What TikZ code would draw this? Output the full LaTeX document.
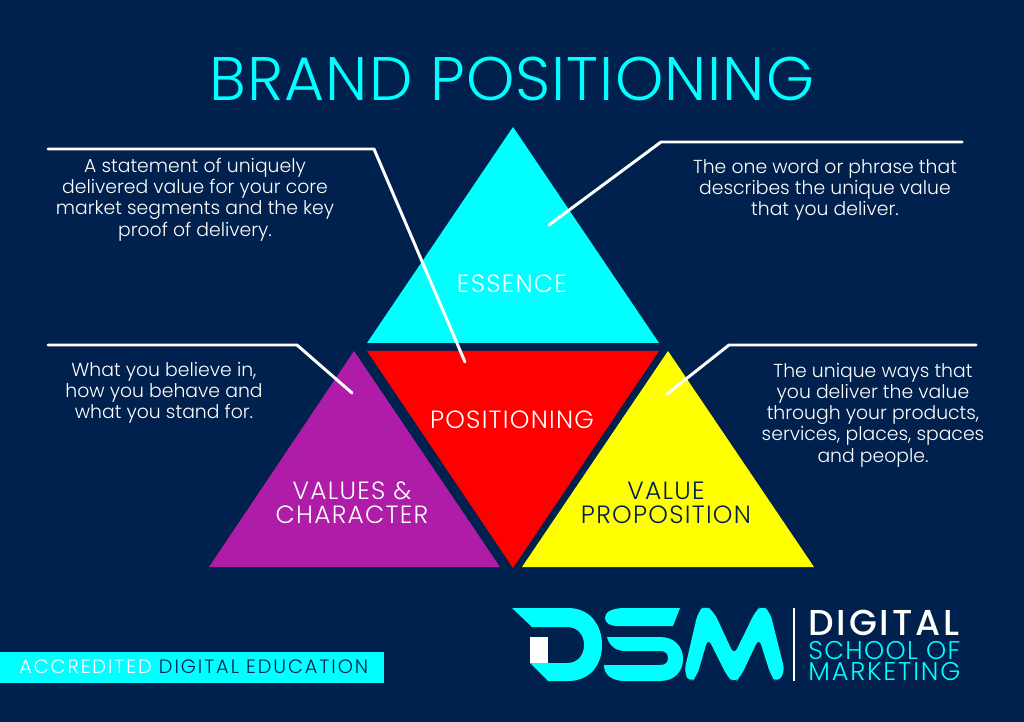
\documentclass[tikz,border=0pt]{standalone}
\usepackage{fontspec}
\setmainfont{Poppins}
\newfontfamily\thinfont{Poppins Light}
\newfontfamily\midfont{Poppins Medium}
\definecolor{navy}{HTML}{00214D}
\definecolor{aqua}{HTML}{00FFFF}
\definecolor{plum}{HTML}{AE1CA8}
\definecolor{lemon}{HTML}{FFFF00}
\definecolor{scarlet}{HTML}{FF0000}
\begin{document}
\begin{tikzpicture}[x=0.02cm,y=-0.02cm,
    blurb/.style={align=center,text=white,font=\thinfont\fontsize{10.7}{12.1}\selectfont,inner sep=0pt},
    tag/.style={align=center,font=\thinfont\fontsize{14.2}{13.6}\selectfont\addfontfeatures{LetterSpace=5},inner sep=0pt},
    brandline/.style={inner sep=0pt,anchor=west,text=aqua},
    leader/.style={draw=white,line width=1.7pt,line cap=round,line join=round}]
    \useasboundingbox (0,0) rectangle (1024,722);
    \fill[navy] (0,0) rectangle (1024,722);
    \node[inner sep=0pt,text=aqua,font=\thinfont\fontsize{35}{35}\selectfont\addfontfeatures{LetterSpace=1.7}] (title) at (512,79) {BRAND POSITIONING};
    % the four triangles
    \fill[aqua] (513,127) -- (659,343) -- (367,343) -- cycle;
    \fill[scarlet] (367,351) -- (659,351) -- (513,568) -- cycle;
    \fill[plum] (354,351) -- (500,567) -- (209,567) -- cycle;
    \fill[lemon] (668,351) -- (814,567) -- (522,567) -- cycle;
    \node[tag,text=white] (essence) at (512,284) {ESSENCE};
    \node[tag,text=white] (positioning) at (512,420) {POSITIONING};
    \node[tag,text=white] (values) at (352,503) {VALUES \&\\CHARACTER};
    \node[tag,text=navy] (value) at (666,503) {VALUE\\PROPOSITION};
    % leader lines
    \coordinate (a1) at (48,149);
    \coordinate (a2) at (374,149);
    \coordinate (a3) at (465,362);
    \coordinate (b1) at (962,142);
    \coordinate (b2) at (661,142);
    \coordinate (b3) at (549,225);
    \coordinate (c1) at (48,345);
    \coordinate (c2) at (297,345);
    \coordinate (c3) at (352,393);
    \coordinate (d1) at (976,345);
    \coordinate (d2) at (729,345);
    \coordinate (d3) at (667,394);
    \foreach \l in {a,b,c,d}{
      \draw[leader] (\l1) -- (\l2) -- (\l3);
    }
    \node[blurb] (statement) at (195,199.5) {A statement of uniquely\\delivered value for your core\\market segments and the key\\proof of delivery.};
    \node[blurb] (word) at (825,190) {The one word or phrase that\\describes the unique value\\that you deliver.};
    \node[blurb] (believe) at (164,393) {What you believe in,\\how you behave and\\what you stand for.};
    \node[blurb] (ways) at (873,415) {The unique ways that\\you deliver the value\\through your products,\\services, places, spaces\\and people.};
    % accreditation strip
    \fill[aqua] (0,652) rectangle (384,683);
    \node[inner sep=0pt,anchor=west,font=\thinfont\fontsize{11}{12}\selectfont\addfontfeatures{LetterSpace=10}] (strip) at (19,667) {\textcolor{white}{ACCREDITED} \textcolor{navy}{DIGITAL EDUCATION}};
    % logo: D
    \fill[aqua] (512,608) -- (568,608) .. controls (590,608) and (602,625) .. (602,645) .. controls (602,665) and (590,681) .. (568,681) -- (548,681) -- (530,663) -- (567,663) .. controls (578,663) and (584,655) .. (584,645) .. controls (584,635) and (578,627) .. (567,627) -- (532,627) -- cycle;
    \fill[white] (530,637) rectangle (548,663);
    % logo: S
    \fill[aqua] (680,608) -- (625,608) .. controls (610,608) and (605,613) .. (605,618) .. controls (605,623) and (610,626) .. (618,626) -- (673,626) -- cycle;
    \fill[aqua] (607,637) -- (660,637) .. controls (675,637) and (683,647) .. (683,659) .. controls (683,671) and (675,681) .. (660,681) -- (625,681) .. controls (612,681) and (604,675) .. (604,665) -- (660,665) .. controls (666,665) and (668,662) .. (668,658) .. controls (668,654) and (666,651) .. (660,651) -- (625,651) .. controls (615,651) and (609,645) .. (607,637) -- cycle;
    % logo: M
    \fill[aqua,rounded corners=4] (684,672) -- (698,612) -- (705,605) -- (714,612) -- (734,655) -- (755,612) -- (762,605) -- (770,612) -- (785,672) -- (777,683) -- (771,676) -- (759,638) -- (741,676) -- (734,683) -- (727,676) -- (708,638) -- (697,676) -- (690,683) -- cycle;
    \coordinate (r1) at (794,608);
    \coordinate (r2) at (794,681);
    \draw[white,line width=1pt] (r1) -- (r2);
    \node[inner sep=0pt,anchor=west,text=white,font=\midfont\fontsize{20.5}{20.5}\selectfont\addfontfeatures{LetterSpace=8}] (digital) at (808,622.5) {DIGITAL};
    \node[brandline,font=\thinfont\fontsize{14.6}{14.6}\selectfont\addfontfeatures{LetterSpace=5}] (school) at (808,651) {SCHOOL OF};
    \node[brandline,font=\thinfont\fontsize{14.6}{14.6}\selectfont\addfontfeatures{LetterSpace=7}] (marketing) at (808,672) {MARKETING};
\end{tikzpicture}
\end{document}
